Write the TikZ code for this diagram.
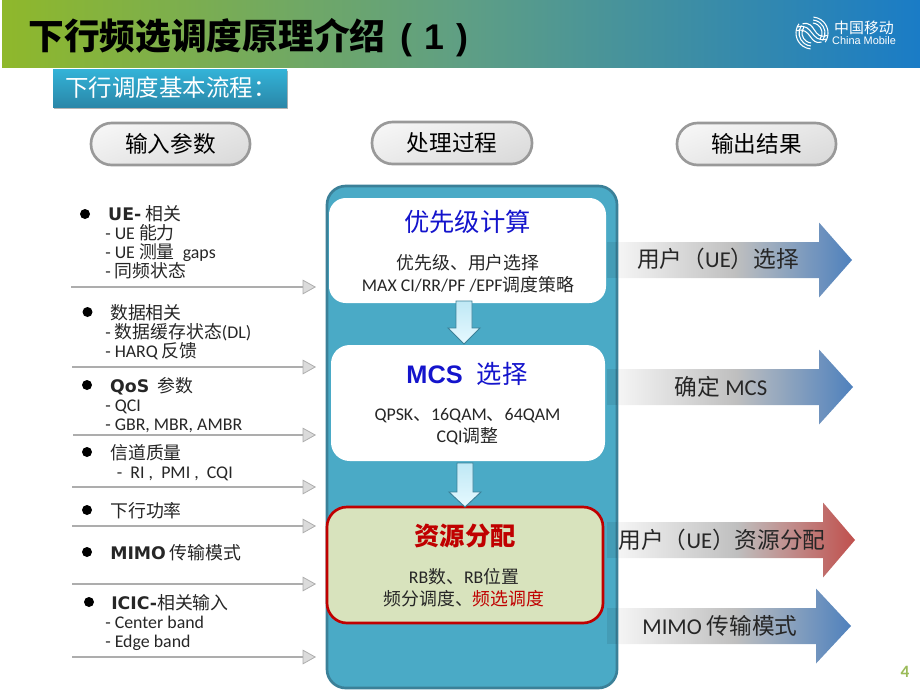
\documentclass[tikz,border=0pt]{standalone}
\usepackage{fontspec}
\setmainfont{Carlito}
\newfontfamily\cjk{Noto Sans CJK SC}
\newfontfamily\blkfont{DejaVu Sans}
\newfontfamily\arialfont{Liberation Sans}
\newcommand{\zh}[1]{{\cjk #1}}
\newcommand{\blk}[1]{{\blkfont\bfseries\fontsize{13}{14}\selectfont #1}}
\newcommand{\fsize}[2]{\fontsize{#1}{#2}\selectfont}
\usetikzlibrary{arrows.meta,fit,shadows}
\definecolor{panelblue}{HTML}{4AAAC6}
\definecolor{panelline}{HTML}{3B8098}
\definecolor{redline}{HTML}{C00000}
\definecolor{headblue}{HTML}{1414CC}
\definecolor{outblue}{HTML}{4F81BD}
\definecolor{outred}{HTML}{C0504D}
\definecolor{barleft}{HTML}{8FB82B}
\definecolor{barmid}{HTML}{5F9F84}
\definecolor{barright}{HTML}{1A7CC6}
\definecolor{subtop}{HTML}{33B3D8}
\definecolor{subbottom}{HTML}{2A87A8}
\definecolor{allocfill}{HTML}{D8E3BD}
\definecolor{pagegreen}{HTML}{9BBB59}
\definecolor{arrowtop}{HTML}{BFE8F5}
\definecolor{arrowbottom}{HTML}{E6F9FF}
\tikzset{
    listtext/.style={anchor=west,align=left,inner sep=0pt,text=black!85,font=\fsize{13.4}{14.25}},
    dot/.style={circle,fill=black,inner sep=0pt,minimum size=7.5pt},
    inarrow/.style={draw=black!32,line width=1.5pt,-{Triangle[length=10pt,width=11pt,fill=black!14,line width=0.6pt]}},
    pill/.style={draw=black!40,line width=2pt,rounded corners=15.5pt,inner sep=0pt,top color=white!96!black,bottom color=black!14,shading angle=20},
    pilltext/.style={inner sep=0pt,text=black,font=\fsize{17}{17}},
    stepbox/.style={rounded corners=12.5pt,inner sep=0pt},
    headtext/.style={inner sep=0pt,font=\fsize{19}{19}},
    bodytext/.style={inner sep=0pt,align=center,text=black!85,font=\fsize{13.4}{16.6}},
    downarrow/.style={draw=panelline,line width=0.7pt,top color=arrowtop,bottom color=arrowbottom},
    outtext/.style={inner sep=0pt,text=black!85,font=\fsize{17}{17}}
}
\begin{document}
\begin{tikzpicture}[x=0.75pt,y=-0.75pt]
    \useasboundingbox (0,0) rectangle (920,690);
    \path[left color=barleft,right color=barright,middle color=barmid] (2,0) rectangle (920,67);
    \node[anchor=west,inner sep=0pt,font=\fsize{26.8}{27}\bfseries] (title) at (28,38) {\zh{下行频选调度原理介绍}\arialfont\hspace{11pt}(\hspace{9pt}1\hspace{9pt})};
    \begin{scope}[shift={(812,33)},white,line width=0.8pt,rotate=-35]
        \foreach \r in {16,13,10} {
            \draw (-\r,0) arc (180:60:\r);
            \draw (\r,0) arc (0:-120:\r);
        }
        \draw (-15,3) .. controls (-5,-9) and (5,9) .. (15,-3);
        \draw (-14,7) .. controls (-4,-5) and (5,12) .. (13,2);
        \draw (-13,-2) .. controls (-4,-13) and (5,6) .. (14,-7);
    \end{scope}
    \node[inner sep=0pt,text=white,font=\fsize{11.2}{12}] (logozh) at (864,28) {\zh{中国移动}};
    \node[inner sep=0pt,text=white,font=\fsize{8.2}{10}] (logoen) at (864,41) {\arialfont China Mobile};

    \node[fit={(53,69)(287,107)},inner sep=0pt,top color=subtop,bottom color=subbottom,drop shadow={shadow xshift=0.6pt,shadow yshift=-1.8pt,opacity=0.6}] (sub) {};
    \node[anchor=west,inner sep=0pt,text=white,font=\fsize{17.6}{18}] (subtext) at (65,88) {\zh{下行调度基本流程：}};

    \node[pill,fit={(91,123)(250,165)}] (inpill) {};
    \node[pill,fit={(372,122)(532,164)}] (procpill) {};
    \node[pill,fit={(677,123)(836,165)}] (outpill) {};
    \node[pilltext] at (inpill.center) (intext) {\zh{输入参数}};
    \node[pilltext] at (procpill.center) (proctext) {\zh{处理过程}};
    \node[pilltext] at (outpill.center) (outtext) {\zh{输出结果}};

    \foreach \n/\y/\hx/\tx/\col in {1/260/819/852/outblue,2/387/819/853/outblue,3/540/823/855/outred,4/626/816/851/outblue} {
        \path[left color=black!4,right color=\col,middle color=black!25] (618,\y-18) -- (\hx,\y-18) -- (\hx,\y-37.5) -- (\tx,\y) -- (\hx,\y+37.5) -- (\hx,\y+18) -- (618,\y+18) -- cycle;
    }
    \node[outtext] (out1) at (718,259) {\zh{用户（}UE\zh{）选择}};
    \node[outtext] (out2) at (721,387) {\zh{确定} MCS};
    \node[outtext] (out3) at (722,540) {\zh{用户（}UE\zh{）资源分配}};
    \node[outtext] (out4) at (720,626) {MIMO \zh{传输模式}};

    \node[fit={(327,186)(617,688)},draw=panelline,line width=2pt,fill=panelblue,rounded corners=14pt,inner sep=0pt] (panel) {};
    \foreach \y in {260,387,540,626} {
        \fill[black,opacity=0.08] (607,\y-18) rectangle (617,\y+18);
    }
    \node[stepbox,fill=white,fit={(329,198)(606,303)}] (prio) {};
    \node[stepbox,rounded corners=14pt,fill=white,fit={(331,345)(605,461)}] (mcs) {};
    \node[stepbox,rounded corners=15pt,draw=redline,line width=2pt,fill=allocfill,fit={(327,507)(603,623)}] (alloc) {};

    \draw[downarrow] (456,301) -- ++(16,0) -- ++(0,27) -- ++(8,0) -- ++(-16,16) -- ++(-16,-16) -- ++(8,0) -- cycle;
    \draw[downarrow] (457,463) -- ++(16,0) -- ++(0,29) -- ++(8,0) -- ++(-16,15) -- ++(-16,-15) -- ++(8,0) -- cycle;

    \node[headtext,text=headblue] (priohead) at (467.5,222) {\zh{优先级计算}};
    \node[bodytext] (priobody) at (468,274) {\zh{优先级、用户选择}\\MAX CI/RR/PF /EPF\zh{调度策略}};
    \node[headtext,text=headblue] (mcshead) at (467,374) {\arialfont\bfseries MCS\ \ \zh{\mdseries 选择}};
    \node[bodytext] (mcsbody) at (467.5,427) {QPSK\zh{、}16QAM\zh{、}64QAM\\CQI\zh{调整}};
    \node[headtext,text=redline] (allochead) at (465,536) {\zh{\bfseries 资源分配}};
    \node[bodytext] (allocbody) at (464,588) {RB\zh{数、}RB\zh{位置}\\\zh{频分调度、\textcolor{redline}{频选调度}}};

    \foreach \n/\x/\y in {1/85/214,2/87.5/312,3/87/385,4/87/452,5/87/510,6/87/552,7/89/602} {
        \node[dot] (dot\n) at (\x,\y) {};
    }
    \node[listtext] (uelist) at (105,242.5) {\hspace*{2.2pt}\blk{UE-} \zh{相关}\\- UE \zh{能力}\\- UE \zh{测量}\ \ gaps\\- \zh{同频状态}};
    \node[listtext] (datalist) at (105,332) {\hspace*{3.7pt}\zh{数据相关}\\- \zh{数据缓存状态}(DL)\\- HARQ \zh{反馈}};
    \node[listtext] (qoslist) at (105,405) {\hspace*{3.7pt}\blk{QoS}\ \ \zh{参数}\\- QCI\\- GBR, MBR, AMBR};
    \node[listtext] (chanlist) at (110,463) {\zh{信道质量}\\\hspace*{5pt}-\ \ RI\ ,\ \ PMI\ ,\ \ CQI};
    \node[listtext] (powlist) at (110,511) {\zh{下行功率}};
    \node[listtext] (mimolist) at (110,553) {\blk{MIMO} \zh{传输模式}};
    \node[listtext] (iciclist) at (105,622.5) {\hspace*{4.5pt}\blk{ICIC-}\zh{相关输入}\\- Center band\\- Edge band};

    \foreach \n/\sx/\y in {1/71/287,2/72/367,3/73/435,4/72/487,5/72/526,6/72/584,7/72/657} {
        \coordinate (from\n) at (\sx,\y);
        \coordinate (to\n) at (316,\y);
        \draw[inarrow] (from\n) -- (to\n);
    }

    \node[inner sep=0pt,text=pagegreen,font=\fsize{13}{13}\bfseries] (pagenum) at (905,672) {4};
\end{tikzpicture}
\end{document}
